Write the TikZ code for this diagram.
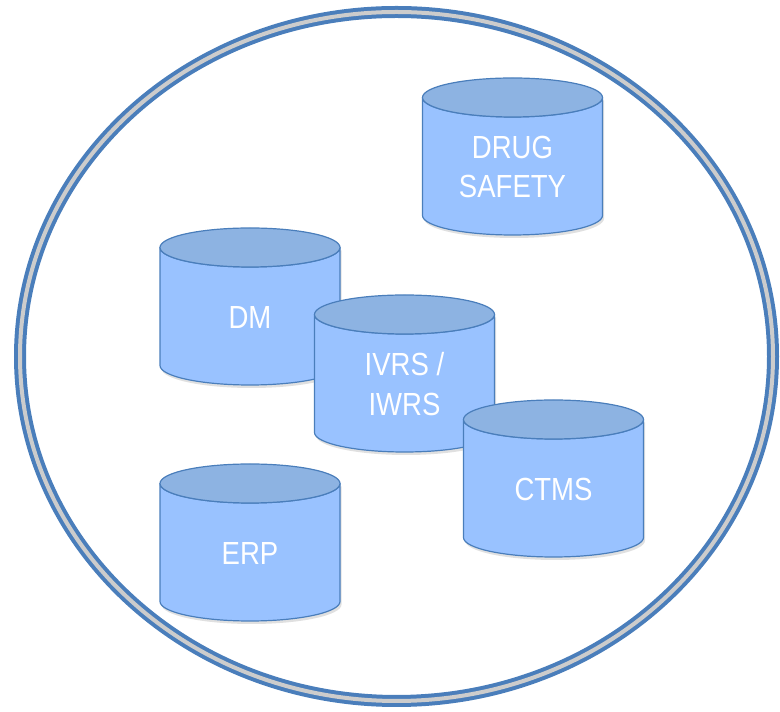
\documentclass[tikz,border=0pt]{standalone}
\usepackage{fontspec}
\usepackage{tikz}
\usetikzlibrary{positioning}
\newfontfamily\cylfont{Liberation Sans}[FakeStretch=0.86]
\definecolor{cylbody}{RGB}{153,194,255}
\definecolor{cyltop}{RGB}{141,179,226}
\definecolor{cylline}{RGB}{74,126,187}
\definecolor{ringgray}{RGB}{204,204,204}

\begin{document}
\begin{tikzpicture}[x=1pt,y=1pt,
    pics/dbcyl/.style={code={
        \fill[cylshadow] (-88.5,-22.5) -- (-88.5,-140.5) arc[start angle=180,end angle=360,x radius=90pt,y radius=19.5pt] -- (91.5,-22.5) -- cycle;
        \filldraw[cylside] (-90,-19.5) -- (-90,-137.5) arc[start angle=180,end angle=360,x radius=90pt,y radius=19.5pt] -- (90,-19.5) arc[start angle=0,end angle=-180,x radius=90pt,y radius=19.5pt] -- cycle;
        \filldraw[cyllid] (0,-19.5) ellipse[x radius=90pt,y radius=19.5pt];
        \node[cyltext] (-lbl) at (0,-89) {#1};
    }}]
    \tikzstyle{ring} = [draw=cylline, line width=4pt, double=ringgray, double distance=4pt]
    \tikzstyle{ringshadow} = [draw=black, line width=4pt, opacity=0.08]
    \tikzstyle{cylside} = [draw=cylline, line width=1.2pt, fill=cylbody, line join=round]
    \tikzstyle{cyllid} = [draw=cylline, line width=1.2pt, fill=cyltop]
    \tikzstyle{cylshadow} = [fill=black, opacity=0.12]
    \tikzstyle{cyltext} = [text=white, align=center, font=\cylfont\fontsize{32}{39.5}\selectfont]

    \useasboundingbox (0,0) rectangle (780,712);

    % outer boundary
    \draw[ringshadow] (397.5,352.5) ellipse[x radius=376.5pt, y radius=344.5pt];
    \draw[ring] (396.5,355.5) ellipse[x radius=376.5pt, y radius=344.5pt];

    % data stores
    \pic (drug) at (512.5,634) {dbcyl={DRUG\\SAFETY}};
    \pic (dm) at (250,484) {dbcyl={DM}};
    \pic (ivrs) at (404.5,417) {dbcyl={IVRS /\\IWRS}};
    \pic (ctms) at (553.5,312) {dbcyl={CTMS}};
    \pic (erp) at (250,248) {dbcyl={ERP}};
\end{tikzpicture}
\end{document}
